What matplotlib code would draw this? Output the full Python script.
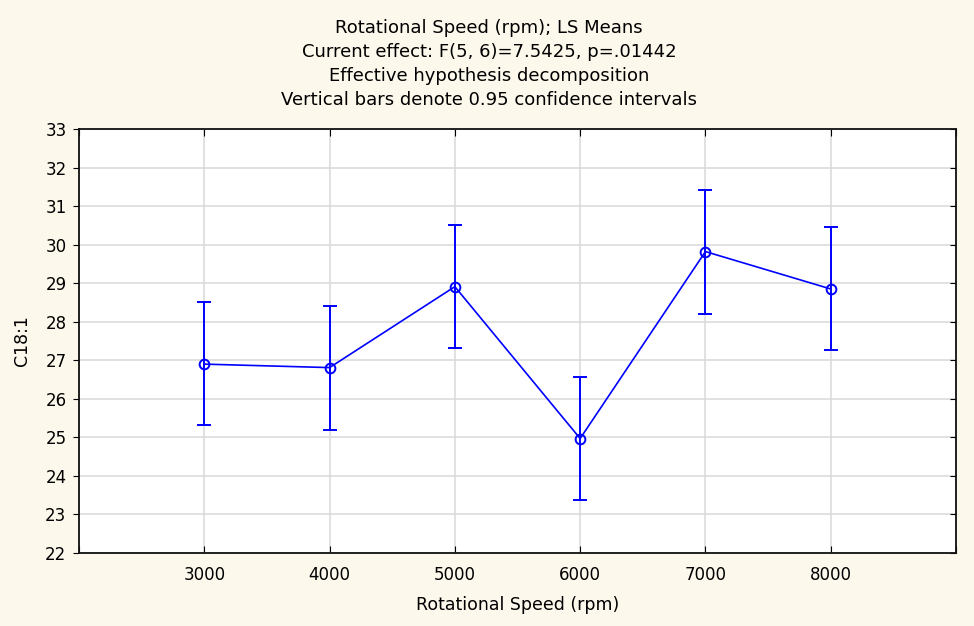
import numpy as np
import matplotlib.pyplot as plt

plt.rcParams['font.family'] = ['DejaVu Sans']

speeds = [3000, 4000, 5000, 6000, 7000, 8000]
means = [26.90, 26.81, 28.91, 24.97, 29.82, 28.85]
upper = [28.51, 28.41, 30.51, 26.56, 31.41, 30.46]
lower = [25.31, 25.20, 27.31, 23.37, 28.21, 27.26]

title_lines = [
    'Rotational Speed (rpm); LS Means',
    'Current effect: F(5, 6)=7.5425, p=.01442',
    'Effective hypothesis decomposition',
    'Vertical bars denote 0.95 confidence intervals',
]

bg = '#fdf8ec'
blue = '#0000ff'

fig = plt.figure(figsize=(9.74, 6.26), dpi=100, facecolor=bg)
ax = fig.add_axes([79 / 974, 1 - 553 / 626, (956 - 79) / 974, (553 - 129) / 626])
ax.set_facecolor('white')

means = np.array(means)
yerr = np.vstack([means - np.array(lower), np.array(upper) - means])
ax.errorbar(speeds, means, yerr=yerr, color=blue, lw=1.2, elinewidth=1.4,
            capsize=5, capthick=1.4, marker='o', ms=7, mfc='none', mec=blue,
            mew=1.4, zorder=3)

ax.set_xlim(2000, 9000)
ax.set_ylim(22, 33)
ax.set_xticks(range(2000, 9001, 1000))
ax.set_xticklabels([''] + [str(s) for s in speeds] + [''])
ax.set_yticks(range(22, 34))
ax.grid(True, color='#d9d9d9', lw=1.1)
ax.set_axisbelow(True)

for s in ax.spines.values():
    s.set_linewidth(1.3)
    s.set_color('#111111')

ax.tick_params(axis='x', direction='in', top=True, length=5, labelsize=12, pad=9)
ax.tick_params(axis='y', direction='out', right=True, length=4, labelsize=12, pad=5)
# right-hand ticks point into the plot
for t in ax.yaxis.get_ticklines()[1::2]:
    t.set_marker(0)

ax.set_xlabel('Rotational Speed (rpm)', fontsize=12.5, labelpad=9)
ax.set_ylabel('C18:1', fontsize=12.5, labelpad=10)

for i, line in enumerate(title_lines):
    fig.text(0.502, 1 - (28 + 24 * i) / 626, line, ha='center', va='center', fontsize=13)

plt.savefig('out.png', dpi=100, facecolor=bg)
